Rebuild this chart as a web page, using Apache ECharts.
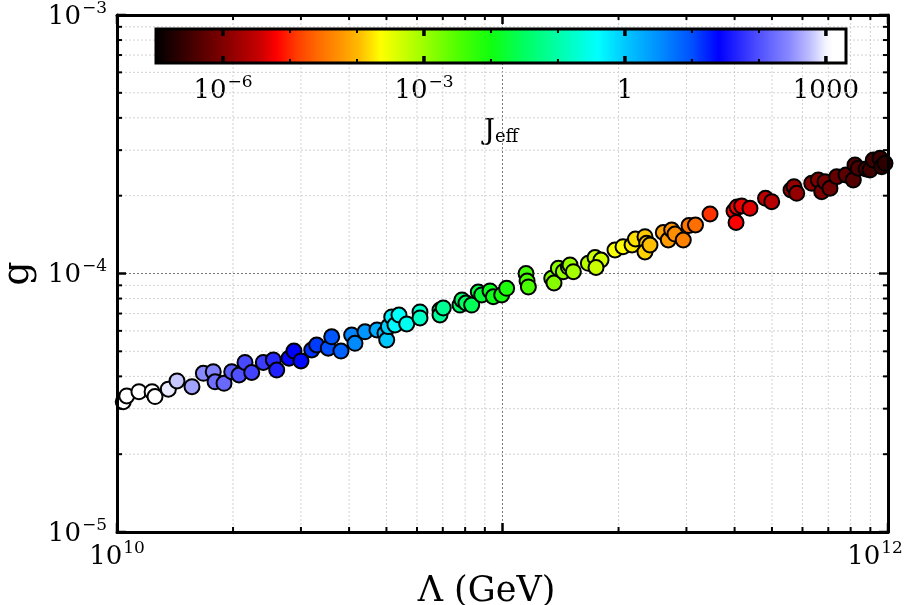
<!DOCTYPE html>
<html>
<head>
<meta charset="utf-8">
<script src="https://cdn.jsdelivr.net/npm/echarts@6/dist/echarts.min.js"></script>
<style>
  html, body { margin: 0; padding: 0; background: #ffffff; }
  #chart { width: 904px; height: 605px; }
</style>
</head>
<body>
<div id="chart"></div>
<script>
// Cutoff scale Λ (GeV), coupling g and log10 of the effective J for each sample
const lambdaGeV = [
  1.038e10, 1.060e10, 1.140e10, 1.233e10, 1.255e10, 1.359e10, 1.431e10, 1.565e10, 1.675e10, 1.777e10,
  1.796e10, 1.895e10, 1.984e10, 2.073e10, 2.148e10, 2.236e10, 2.396e10, 2.544e10, 2.596e10, 2.794e10,
  2.878e10, 3.001e10, 3.200e10, 3.296e10, 3.532e10, 3.605e10, 3.811e10, 4.062e10, 4.143e10, 4.398e10,
  4.725e10, 4.957e10, 5.008e10, 5.056e10, 5.160e10, 5.262e10, 5.389e10, 5.643e10, 6.109e10, 6.109e10,
  6.884e10, 6.884e10, 7.020e10, 7.758e10, 7.850e10, 8.040e10, 8.318e10, 8.654e10, 8.832e10, 9.282e10,
  9.466e10, 9.952e10, 1.025e11, 1.151e11, 1.158e11, 1.167e11, 1.342e11, 1.360e11, 1.396e11, 1.438e11,
  1.482e11, 1.497e11, 1.527e11, 1.670e11, 1.738e11, 1.801e11, 1.748e11, 1.958e11, 2.054e11, 2.168e11,
  2.213e11, 2.342e11, 2.366e11, 2.342e11, 2.413e11, 2.613e11, 2.692e11, 2.747e11, 2.802e11, 2.944e11,
  3.046e11, 3.167e11, 3.454e11, 3.986e11, 4.035e11, 4.059e11, 4.174e11, 4.385e11, 4.811e11, 4.993e11,
  5.603e11, 5.704e11, 5.797e11, 6.341e11, 6.595e11, 6.730e11, 6.865e11, 7.072e11, 7.361e11, 7.780e11,
  8.128e11, 8.211e11, 8.375e11, 8.770e11, 8.981e11, 9.160e11, 9.533e11, 9.631e11, 9.822e11
];
const gCoupling = [
  3.19e-5, 3.36e-5, 3.49e-5, 3.49e-5, 3.34e-5, 3.57e-5, 3.84e-5, 3.65e-5, 4.11e-5, 4.17e-5,
  3.81e-5, 3.76e-5, 4.17e-5, 4.05e-5, 4.53e-5, 4.14e-5, 4.53e-5, 4.63e-5, 4.23e-5, 4.70e-5,
  5.01e-5, 4.59e-5, 5.06e-5, 5.29e-5, 5.14e-5, 5.69e-5, 5.01e-5, 5.78e-5, 5.37e-5, 5.95e-5,
  6.05e-5, 5.87e-5, 5.53e-5, 6.23e-5, 6.79e-5, 6.32e-5, 6.91e-5, 6.38e-5, 7.10e-5, 6.73e-5,
  7.22e-5, 6.91e-5, 7.36e-5, 7.55e-5, 7.90e-5, 7.69e-5, 7.55e-5, 8.48e-5, 8.26e-5, 8.56e-5,
  8.13e-5, 8.26e-5, 8.76e-5, 1.000e-4, 9.35e-5, 8.87e-5, 9.58e-5, 9.19e-5, 1.047e-4, 1.016e-4,
  1.059e-4, 1.079e-4, 1.016e-4, 1.095e-4, 1.153e-4, 1.128e-4, 1.055e-4, 1.233e-4, 1.270e-4, 1.289e-4,
  1.360e-4, 1.388e-4, 1.309e-4, 1.211e-4, 1.289e-4, 1.441e-4, 1.348e-4, 1.473e-4, 1.421e-4, 1.348e-4,
  1.533e-4, 1.540e-4, 1.699e-4, 1.745e-4, 1.575e-4, 1.808e-4, 1.824e-4, 1.787e-4, 1.954e-4, 1.896e-4,
  2.104e-4, 2.167e-4, 2.043e-4, 2.233e-4, 2.300e-4, 2.072e-4, 2.265e-4, 2.136e-4, 2.368e-4, 2.404e-4,
  2.300e-4, 2.629e-4, 2.553e-4, 2.537e-4, 2.515e-4, 2.749e-4, 2.790e-4, 2.590e-4, 2.669e-4
];
const log10Jeff = [
  3.3, 3.25, 3.2, 3.1, 3.1, 2.95, 2.8, 2.6, 2.45, 2.4,
  2.25, 2.2, 2.1, 2.0, 1.95, 1.9, 1.85, 1.7, 1.65, 1.45,
  1.4, 1.35, 1.15, 1.1, 1.0, 0.95, 0.85, 0.6, 0.55, 0.45,
  0.25, 0.05, 0.0, -0.05, -0.3, -0.35, -0.4, -0.5, -0.75, -0.8,
  -1.1, -1.1, -1.15, -1.4, -1.45, -1.5, -1.55, -1.7, -1.75, -1.9,
  -1.95, -2.05, -2.1, -2.4, -2.45, -2.45, -2.8, -2.85, -2.9, -2.95,
  -3.0, -3.0, -3.05, -3.2, -3.3, -3.35, -3.3, -3.6, -3.65, -3.75,
  -3.8, -3.9, -3.9, -3.85, -3.95, -4.15, -4.2, -4.25, -4.3, -4.4,
  -4.5, -4.55, -4.95, -5.2, -5.2, -5.25, -5.3, -5.35, -5.55, -5.6,
  -5.8, -5.85, -5.85, -5.95, -6.0, -6.05, -6.1, -6.15, -6.2, -6.3,
  -6.35, -6.35, -6.4, -6.45, -6.5, -6.5, -6.55, -6.6, -6.65
];

// Axis ticks
const xRange = [1e10, 1e12];
const yRange = [1e-5, 1e-3];
const xMajorTicks = [1e10, 1e11, 1e12];
const yMajorTicks = [1e-5, 1e-4, 1e-3];
const xMinorTicks = [2e10, 3e10, 4e10, 5e10, 6e10, 7e10, 8e10, 9e10, 2e11, 3e11, 4e11, 5e11, 6e11, 7e11, 8e11, 9e11];
const yMinorTicks = [2e-5, 3e-5, 4e-5, 5e-5, 6e-5, 7e-5, 8e-5, 9e-5, 2e-4, 3e-4, 4e-4, 5e-4, 6e-4, 7e-4, 8e-4, 9e-4];
const xLabelExponents = [10, 12];
const yLabelExponents = [-5, -4, -3];

// Colour bar (log10 J_eff)
const colorbarRange = [-7, 3.3];
const colorbarTicks = [-6, -5, -4, -3, -2, -1, 0, 1, 2, 3];
const colorbarLabelTicks = [-6, -3, 0, 3];
const colormapStops = [
  [-7.0, '#000000'], [-6.0, '#800000'], [-5.45, '#c80000'], [-5.2, '#ff0000'],
  [-4.9, '#ff3c00'], [-4.6, '#ff6800'], [-4.25, '#ff9400'], [-3.95, '#ffbe00'],
  [-3.65, '#ffff00'], [-3.0, '#9cff00'], [-2.5, '#50ff00'], [-2.0, '#10ff10'],
  [-1.5, '#00ff60'], [-1.0, '#00ffa8'], [-0.4, '#00ffff'], [0.0, '#00c8ff'],
  [0.5, '#0090ff'], [1.0, '#0050ff'], [1.4, '#0000ff'], [2.0, '#5050ff'],
  [2.45, '#8888ff'], [2.75, '#bcbcff'], [3.0, '#f4f4ff'], [3.1, '#ffffff']
];

const SERIF = '"DejaVu Serif", "Liberation Serif", serif';
const MINUS = '\u2212';

function hexToRgb(h) {
  return [parseInt(h.slice(1, 3), 16), parseInt(h.slice(3, 5), 16), parseInt(h.slice(5, 7), 16)];
}
function colormap(t) {
  const s = colormapStops;
  if (t <= s[0][0]) return s[0][1];
  if (t >= s[s.length - 1][0]) return s[s.length - 1][1];
  for (let i = 1; i < s.length; i++) {
    if (t <= s[i][0]) {
      const f = (t - s[i - 1][0]) / (s[i][0] - s[i - 1][0]);
      const a = hexToRgb(s[i - 1][1]);
      const b = hexToRgb(s[i][1]);
      return 'rgb(' + a.map((c, k) => Math.round(c + (b[k] - c) * f)).join(',') + ')';
    }
  }
  return s[s.length - 1][1];
}
function powLabel(e, supStyle) {
  return '{b|10}{' + (supStyle || 's') + '|' + String(e).replace('-', MINUS) + '}';
}

const labelRich = {
  b: { fontFamily: SERIF, fontSize: 26, color: '#000', lineHeight: 30, verticalAlign: 'bottom' },
  s: { fontFamily: SERIF, fontSize: 17, color: '#000', lineHeight: 17, verticalAlign: 'top', padding: [0, 0, 0, 1] },
  // last label at the right edge is kept inside the canvas
  sEdge: { fontFamily: SERIF, fontSize: 17, color: '#000', lineHeight: 17, verticalAlign: 'top', padding: [0, 26, 0, 1] }
};

const points = lambdaGeV.map((l, i) => [l, gCoupling[i], log10Jeff[i]]);

const chart = echarts.init(document.getElementById('chart'), null, { renderer: 'canvas' });

const hiddenAxisParts = {
  axisTick: { show: false },
  axisLabel: { show: false },
  splitLine: { show: false }
};
const frameLine = { show: true, onZero: false, lineStyle: { color: '#000', width: 3 } };

chart.setOption({
  animation: false,
  backgroundColor: '#ffffff',
  grid: [
    { left: 117, right: 16, top: 15, bottom: 73, outerBoundsMode: 'none', containLabel: false },
    { left: 156, right: 58, top: 29, height: 34, outerBoundsMode: 'none', containLabel: false }
  ],
  xAxis: [
    {
      type: 'log', logBase: 10, gridIndex: 0, min: xRange[0], max: xRange[1], position: 'bottom', z: 10,
      axisLine: frameLine,
      axisTick: { show: false },
      splitLine: { show: false },
      axisLabel: {
        margin: 8,
        formatter: v => {
          const e = Math.round(Math.log10(v));
          if (!xLabelExponents.includes(e)) return '';
          return powLabel(e, e === xLabelExponents[xLabelExponents.length - 1] ? 'sEdge' : 's');
        },
        rich: labelRich
      },
      name: 'Λ (GeV)', nameLocation: 'middle', nameGap: 37,
      nameTextStyle: { fontFamily: SERIF, fontSize: 35, color: '#000', padding: [0, 32, 0, 0] }
    },
    Object.assign({
      type: 'log', logBase: 10, gridIndex: 0, min: xRange[0], max: xRange[1], position: 'top', z: 10,
      axisLine: frameLine
    }, hiddenAxisParts),
    {
      type: 'value', gridIndex: 1, min: colorbarRange[0], max: colorbarRange[1], interval: 1,
      axisLine: { show: false }, axisTick: { show: false }, splitLine: { show: false },
      axisLabel: {
        margin: 11,
        formatter: v => {
          const r = Math.round(v);
          if (Math.abs(v - r) > 1e-6 || !colorbarLabelTicks.includes(r)) return '';
          if (r >= 0) return '{b|' + String(Math.pow(10, r)) + '}';
          return powLabel(r);
        },
        rich: labelRich
      },
      name: '{j|J}{e|eff}', nameLocation: 'middle', nameGap: 53,
      nameTextStyle: {
        rich: {
          j: { fontFamily: SERIF, fontSize: 28, color: '#000', lineHeight: 30, verticalAlign: 'bottom' },
          e: { fontFamily: SERIF, fontSize: 18, color: '#000', lineHeight: 18, verticalAlign: 'bottom' }
        }
      }
    }
  ],
  yAxis: [
    {
      type: 'log', logBase: 10, gridIndex: 0, min: yRange[0], max: yRange[1], position: 'left', z: 10,
      axisLine: frameLine,
      axisTick: { show: false },
      splitLine: { show: false },
      axisLabel: {
        margin: 10,
        formatter: v => {
          const e = Math.round(Math.log10(v));
          return yLabelExponents.includes(e) ? powLabel(e) : '';
        },
        rich: labelRich
      },
      name: 'g', nameLocation: 'middle', nameRotate: 90, nameGap: 72,
      nameTextStyle: { fontFamily: SERIF, fontSize: 38, color: '#000' }
    },
    Object.assign({
      type: 'log', logBase: 10, gridIndex: 0, min: yRange[0], max: yRange[1], position: 'right', z: 10,
      axisLine: frameLine
    }, hiddenAxisParts),
    Object.assign({
      type: 'value', gridIndex: 1, min: 0, max: 1, axisLine: { show: false }
    }, hiddenAxisParts)
  ],
  series: [
    // dotted grid, vertical
    {
      type: 'custom', xAxisIndex: 0, yAxisIndex: 0, z: 1, silent: true,
      data: xMinorTicks.concat([1e11]).map(v => [v, 1e-4]),
      renderItem(params, api) {
        const cs = params.coordSys;
        const v = api.value(0);
        const x = api.coord([v, 1e-4])[0];
        const major = xMajorTicks.includes(v);
        return {
          type: 'line',
          shape: { x1: x, y1: cs.y, x2: x, y2: cs.y + cs.height },
          style: { stroke: major ? '#7a7a7a' : '#d2d2d2', lineWidth: 1, lineDash: [2, 2] }
        };
      }
    },
    // dotted grid, horizontal
    {
      type: 'custom', xAxisIndex: 0, yAxisIndex: 0, z: 1, silent: true,
      data: yMinorTicks.concat([1e-4]).map(v => [1e11, v]),
      renderItem(params, api) {
        const cs = params.coordSys;
        const v = api.value(1);
        const y = api.coord([1e11, v])[1];
        const major = yMajorTicks.includes(v);
        return {
          type: 'line',
          shape: { x1: cs.x, y1: y, x2: cs.x + cs.width, y2: y },
          style: { stroke: major ? '#7a7a7a' : '#d2d2d2', lineWidth: 1, lineDash: [2, 2] }
        };
      }
    },
    // samples coloured by J_eff
    {
      type: 'scatter', xAxisIndex: 0, yAxisIndex: 0, z: 3, clip: true,
      data: points,
      symbol: 'circle', symbolSize: 15,
      itemStyle: {
        color: p => colormap(p.value[2]),
        borderColor: '#000', borderWidth: 2, opacity: 1
      },
      emphasis: { disabled: true }
    },
    // inward ticks on bottom and top edges
    {
      type: 'custom', xAxisIndex: 0, yAxisIndex: 0, z: 11, silent: true,
      data: xMinorTicks.concat(xMajorTicks).map(v => [v, 1e-4]),
      renderItem(params, api) {
        const cs = params.coordSys;
        const v = api.value(0);
        const x = api.coord([v, 1e-4])[0];
        const major = xMajorTicks.includes(v);
        const len = major ? 9 : 5;
        const st = { stroke: '#000', lineWidth: major ? 2.5 : 2 };
        return {
          type: 'group',
          children: [
            { type: 'line', shape: { x1: x, y1: cs.y + cs.height, x2: x, y2: cs.y + cs.height - len }, style: st },
            { type: 'line', shape: { x1: x, y1: cs.y, x2: x, y2: cs.y + len }, style: st }
          ]
        };
      }
    },
    // inward ticks on left and right edges
    {
      type: 'custom', xAxisIndex: 0, yAxisIndex: 0, z: 11, silent: true,
      data: yMinorTicks.concat(yMajorTicks).map(v => [1e11, v]),
      renderItem(params, api) {
        const cs = params.coordSys;
        const v = api.value(1);
        const y = api.coord([1e11, v])[1];
        const major = yMajorTicks.includes(v);
        const len = major ? 9 : 5;
        const st = { stroke: '#000', lineWidth: major ? 2.5 : 2 };
        return {
          type: 'group',
          children: [
            { type: 'line', shape: { x1: cs.x, y1: y, x2: cs.x + len, y2: y }, style: st },
            { type: 'line', shape: { x1: cs.x + cs.width, y1: y, x2: cs.x + cs.width - len, y2: y }, style: st }
          ]
        };
      }
    },
    // colour bar body and frame
    {
      type: 'custom', xAxisIndex: 2, yAxisIndex: 2, z: 8, silent: true,
      data: [[colorbarRange[0], 0]],
      renderItem(params, api) {
        const p0 = api.coord([colorbarRange[0], 1]);
        const p1 = api.coord([colorbarRange[1], 0]);
        const span = colorbarRange[1] - colorbarRange[0];
        const stops = colormapStops.map(([v, c]) => ({
          offset: Math.min(1, Math.max(0, (v - colorbarRange[0]) / span)),
          color: c
        }));
        const shape = { x: p0[0], y: p0[1], width: p1[0] - p0[0], height: p1[1] - p0[1] };
        return {
          type: 'group',
          children: [
            { type: 'rect', shape: shape, style: { fill: new echarts.graphic.LinearGradient(0, 0, 1, 0, stops) } },
            { type: 'rect', shape: shape, style: { fill: 'none', stroke: '#000', lineWidth: 3 } }
          ]
        };
      }
    },
    // colour bar ticks
    {
      type: 'custom', xAxisIndex: 2, yAxisIndex: 2, z: 9, silent: true,
      data: colorbarTicks.map(v => [v, 0]),
      renderItem(params, api) {
        const v = api.value(0);
        const top = api.coord([v, 1]);
        const bot = api.coord([v, 0]);
        const major = colorbarLabelTicks.includes(v);
        const len = major ? 7 : 4;
        const st = { stroke: '#000', lineWidth: major ? 3.5 : 2 };
        return {
          type: 'group',
          children: [
            { type: 'line', shape: { x1: top[0], y1: top[1], x2: top[0], y2: top[1] + len }, style: st },
            { type: 'line', shape: { x1: bot[0], y1: bot[1], x2: bot[0], y2: bot[1] - len }, style: st }
          ]
        };
      }
    }
  ]
});
</script>
</body>
</html>
